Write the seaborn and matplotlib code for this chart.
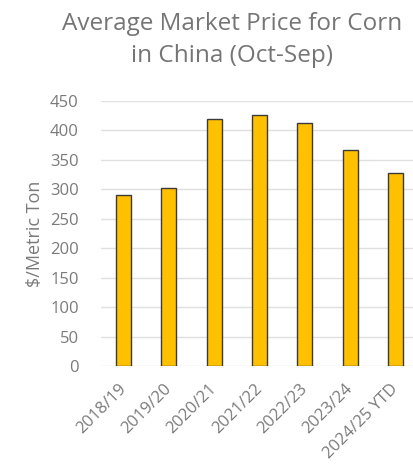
import matplotlib
matplotlib.use("Agg")
import matplotlib.pyplot as plt
import seaborn as sns
import pandas as pd

# Marketing years and average corn prices (USD per metric ton)
seasons = ["2018/19", "2019/20", "2020/21", "2021/22", "2022/23", "2023/24", "2024/25 YTD"]
prices = [290, 303, 419, 427, 412, 367, 328]
y_ticks = [0, 50, 100, 150, 200, 250, 300, 350, 400, 450]

df = pd.DataFrame({"season": seasons, "price": prices})

sns.set_style("white")
plt.rcParams["font.family"] = ["Open Sans", "DejaVu Sans"]

text_gray = "#7a7a7a"
fig = plt.figure(figsize=(4.13, 4.74), dpi=100)
ax = fig.add_axes([101 / 413, (474 - 366) / 474, 317 / 413, 265 / 474])

sns.barplot(data=df, x="season", y="price", color="#FFC000", width=0.33,
            edgecolor="#3a3a3a", linewidth=1.0, saturation=1, ax=ax)

ax.set_ylim(0, 450)
ax.set_xlim(-0.5, len(seasons) - 0.5)
ax.set_yticks(y_ticks)
ax.set_yticklabels([str(v) for v in y_ticks], fontsize=12, color=text_gray)
ax.yaxis.grid(True, color="#e0e0e0", linewidth=1.0)
ax.set_axisbelow(True)
for s in ax.spines.values():
    s.set_visible(False)
ax.tick_params(axis="y", length=0, pad=16)
ax.tick_params(axis="x", length=0, pad=15)
ax.set_xticks(range(len(seasons)))
ax.set_xticklabels(seasons, rotation=45, ha="right", va="center",
                   rotation_mode="anchor", fontsize=12, color=text_gray)
ax.set_xlabel("")
ax.set_ylabel("$/Metric Ton", fontsize=13, color=text_gray, labelpad=4)

fig.text(232 / 413, 1 - 12 / 474, "Average Market Price for Corn\nin China (Oct-Sep)",
         ha="center", va="top", fontsize=17.5, color="#757575", linespacing=1.45)

fig.savefig("out.png", dpi=100)
